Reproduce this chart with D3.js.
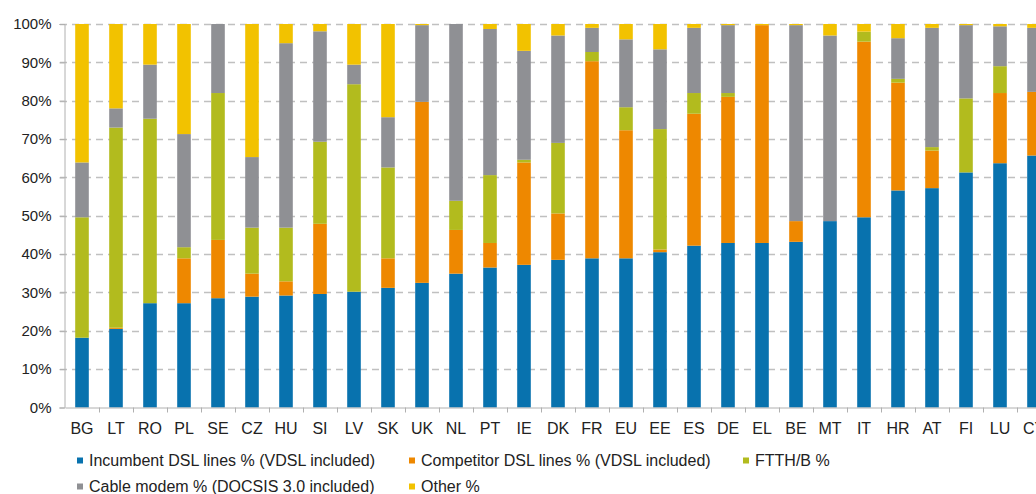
<!DOCTYPE html>
<html>
<head>
<meta charset="utf-8">
<script src="https://cdn.jsdelivr.net/npm/d3@7"></script>
<style>
  html, body { margin: 0; padding: 0; background: #fff; overflow: hidden; }
  svg { display: block; font-family: "Liberation Sans", Arial, sans-serif; }
</style>
</head>
<body>
<svg id="chart" width="1036" height="494"></svg>
<script>
const countries = ['BG', 'LT', 'RO', 'PL', 'SE', 'CZ', 'HU', 'SI', 'LV', 'SK', 'UK', 'NL', 'PT', 'IE', 'DK',
  'FR', 'EU', 'EE', 'ES', 'DE', 'EL', 'BE', 'MT', 'IT', 'HR', 'AT', 'FI', 'LU', 'CY'];

const incumbent = [18.2, 20.5, 27.2, 27.2, 28.5, 28.9, 29.2, 29.6, 30.2, 31.2, 32.5, 34.9, 36.5, 37.2, 38.5,
  38.9, 38.9, 40.5, 42.2, 42.9, 42.9, 43.2, 48.6, 49.6, 56.6, 57.2, 61.3, 63.7, 65.7];
const competitor = [0, 0.3, 0, 11.7, 15.2, 6.0, 3.7, 18.3, 0, 7.7, 47.2, 11.4, 6.4, 26.7, 12.1,
  51.4, 33.4, 0.7, 34.4, 38.1, 56.8, 5.4, 0, 45.8, 28.1, 9.8, 0, 18.3, 16.6];
const ftth = [31.4, 52.2, 48.1, 2.9, 38.3, 12.0, 14.0, 21.4, 54.1, 23.7, 0, 7.6, 17.7, 0.7, 18.4,
  2.4, 6.0, 31.4, 5.4, 1.0, 0, 0, 0, 2.6, 1.0, 0.9, 19.3, 7.0, 0];
const cable = [14.3, 5.0, 14.1, 29.5, 18.0, 18.4, 48.1, 28.8, 5.1, 13.1, 20.0, 46.1, 38.1, 28.4, 28.0,
  6.3, 17.7, 20.8, 17.0, 17.7, 0, 51.1, 48.4, 0, 10.6, 31.1, 19.1, 10.4, 16.7];
const other = [36.1, 22.0, 10.6, 28.7, 0, 34.7, 5.0, 1.9, 10.6, 24.3, 0.3, 0, 1.3, 7.0, 3.0,
  1.0, 4.0, 6.6, 1.0, 0.3, 0.3, 0.3, 3.0, 2.0, 3.7, 1.0, 0.3, 0.6, 1.0];

const seriesNames = ['Incumbent DSL lines % (VDSL included)', 'Competitor DSL lines % (VDSL included)',
  'FTTH/B %', 'Cable modem % (DOCSIS 3.0 included)', 'Other %'];
const seriesKeys = ['incumbent', 'competitor', 'ftth', 'cable', 'other'];
const colors = ['#0872ae', '#ee8800', '#b2bb1e', '#8f9094', '#f2c200'];
const yTicks = [0, 10, 20, 30, 40, 50, 60, 70, 80, 90, 100];

const width = 1036;
const height = 494;
const marginTop = 24;
const marginLeft = 65;
const plotBottom = 407.5;
const plotRight = 1051; // plot runs past the right edge, as in the source

const rows = countries.map((c, i) => ({
  country: c,
  incumbent: incumbent[i],
  competitor: competitor[i],
  ftth: ftth[i],
  cable: cable[i],
  other: other[i]
}));

const svg = d3.select('#chart');

const x = d3.scaleBand()
  .domain(countries)
  .range([marginLeft, plotRight])
  .paddingInner(0.6)
  .paddingOuter(0.3);

const y = d3.scaleLinear()
  .domain([0, 100])
  .range([plotBottom, marginTop]);

const color = d3.scaleOrdinal().domain(seriesKeys).range(colors);

// dashed gridlines
svg.append('g')
  .attr('class', 'grid')
  .selectAll('line')
  .data(yTicks.filter((d) => d > 0))
  .join('line')
  .attr('x1', marginLeft - 5)
  .attr('x2', width)
  .attr('y1', (d) => Math.round(y(d)) + 0.5)
  .attr('y2', (d) => Math.round(y(d)) + 0.5)
  .attr('stroke', '#c0c0c0')
  .attr('stroke-width', 1.5)
  .attr('stroke-dasharray', '7,5');

// stacked bars
const stacked = d3.stack().keys(seriesKeys)(rows);

svg.append('g')
  .attr('class', 'bars')
  .selectAll('g')
  .data(stacked)
  .join('g')
  .attr('fill', (d) => color(d.key))
  .selectAll('rect')
  .data((d) => d)
  .join('rect')
  .attr('x', (d) => x(d.data.country))
  .attr('y', (d) => y(d[1]))
  .attr('height', (d) => Math.max(0, y(d[0]) - y(d[1])))
  .attr('width', x.bandwidth());

// y axis
const yAxis = svg.append('g')
  .attr('class', 'y-axis')
  .attr('transform', `translate(${marginLeft - 0.5},0)`)
  .call(d3.axisLeft(y).tickValues(yTicks).tickFormat((d) => d + '%').tickSize(5).tickPadding(8));
yAxis.select('.domain').attr('stroke', '#b0b0b0');
yAxis.selectAll('.tick line').attr('stroke', '#b0b0b0');
yAxis.selectAll('.tick text')
  .attr('font-size', 15)
  .attr('fill', '#222')
  .attr('font-family', '"Liberation Sans", Arial, sans-serif');

// x axis, ticks sit between categories
const xAxis = svg.append('g')
  .attr('class', 'x-axis')
  .attr('transform', `translate(0,${plotBottom})`)
  .call(d3.axisBottom(x).tickSize(0).tickPadding(15));
xAxis.select('.domain').attr('stroke', '#b0b0b0');
xAxis.selectAll('.tick text')
  .attr('font-size', 16)
  .attr('fill', '#222')
  .attr('font-family', '"Liberation Sans", Arial, sans-serif');
xAxis.selectAll('.sep')
  .data(countries.slice(1))
  .join('line')
  .attr('class', 'sep')
  .attr('x1', (d) => Math.round(x(d) - x.step() * x.paddingInner() / 2) + 0.5)
  .attr('x2', (d) => Math.round(x(d) - x.step() * x.paddingInner() / 2) + 0.5)
  .attr('y1', 0)
  .attr('y2', 5)
  .attr('stroke', '#b0b0b0');

// legend
const legendPos = [[77, 460.5], [409, 460.5], [743, 460.5], [77, 486.5], [409, 486.5]];
const legend = svg.append('g')
  .attr('class', 'legend')
  .selectAll('g')
  .data(seriesNames)
  .join('g')
  .attr('transform', (d, i) => `translate(${legendPos[i][0]},${legendPos[i][1]})`);
legend.append('rect')
  .attr('x', 0)
  .attr('y', -3)
  .attr('width', 6)
  .attr('height', 6)
  .attr('fill', (d, i) => colors[i]);
legend.append('text')
  .attr('x', 12)
  .attr('y', 0)
  .attr('dy', '0.35em')
  .attr('font-size', 16)
  .attr('fill', '#222')
  .text((d) => d);
</script>
</body>
</html>
